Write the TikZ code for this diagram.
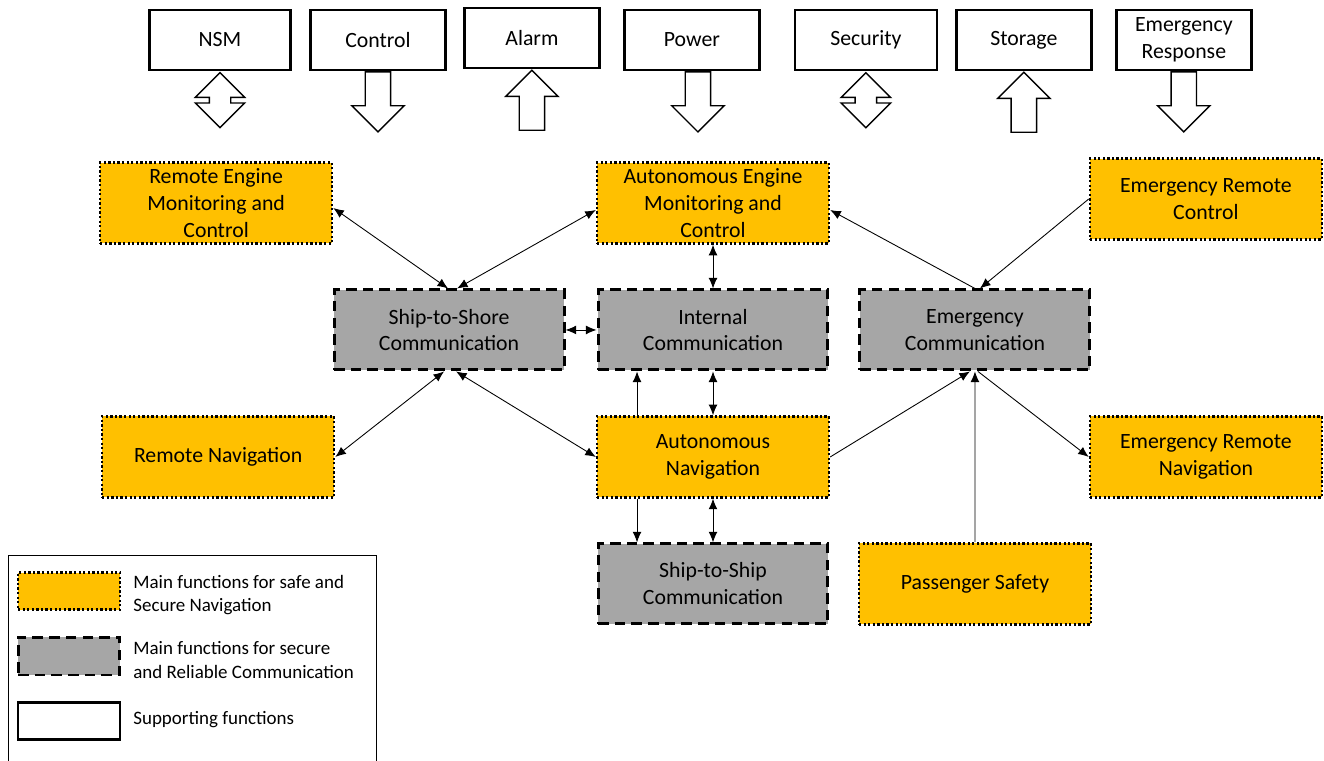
\documentclass[tikz,border=0pt]{standalone}
\usepackage{fontspec}
\setmainfont{Carlito}
\usetikzlibrary{shapes.arrows, arrows.meta}
\definecolor{navgold}{HTML}{FFC000}
\definecolor{commgrey}{HTML}{A6A6A6}
\tikzstyle{navbox} = [rectangle, minimum width=4.64cm, minimum height=1.62cm, inner sep=1pt, align=center, draw=black, line width=1.4pt, dash pattern=on 1.3pt off 1.3pt, fill=navgold]
\tikzstyle{commbox} = [rectangle, minimum width=4.6cm, minimum height=1.6cm, inner sep=1pt, align=center, draw=black, line width=1.7pt, dash pattern=on 6pt off 3.5pt, fill=commgrey]
\tikzstyle{supbox} = [rectangle, minimum width=2.7cm, minimum height=1.2cm, inner sep=1pt, align=center, draw=black, line width=1.4pt, fill=white]
\tikzstyle{downarrow} = [single arrow, draw=black, line width=0.8pt, fill=white, shape border rotate=270, minimum height=1.2cm, single arrow head extend=0.27cm, inner sep=0.24cm, anchor=tail]
\tikzstyle{uparrow} = [downarrow, shape border rotate=90]
\tikzstyle{twoway} = [double arrow, draw=black, line width=0.8pt, fill=white, shape border rotate=90, minimum height=1.1cm, double arrow head extend=0.28cm, inner sep=0.2cm]
\tikzstyle{keytext} = [anchor=west, align=left, inner sep=0pt, font=\fontsize{10.8}{13.2}\selectfont]
\tikzstyle{link} = [line width=0.5pt, <->, >={Latex[length=6pt,width=5pt]}]
\tikzstyle{arrow} = [line width=0.5pt, ->, >={Latex[length=6pt,width=5pt]}]

\begin{document}
\begin{tikzpicture}[x=0.02cm, y=-0.02cm, node distance=2.54cm, font=\fontsize{12.4}{15.3}\selectfont]
    \useasboundingbox (0,0) rectangle (1324,760);
    % supporting functions
    \node (nsm) [supbox, minimum width=2.82cm] at (220,40) {NSM};
    \node (ctrl) [supbox, right of=nsm, xshift=0.62cm] {Control};
    \node (alarm) [supbox, right of=ctrl, xshift=0.54cm, yshift=0.04cm] {Alarm};
    \node (power) [supbox, right of=alarm, xshift=0.66cm, yshift=-0.04cm] {Power};
    \node (security) [supbox, minimum width=2.84cm, right of=power, xshift=0.94cm] {Security};
    \node (storage) [supbox, right of=security, xshift=0.62cm] {Storage};
    \node (emresp) [supbox, right of=storage, xshift=0.66cm] {Emergency\\Response};
    \node (nsmflow) [twoway, yshift=-0.58cm] at (nsm.south) {};
    \node (ctrlflow) [downarrow] at (ctrl.south) {};
    \node (alarmflow) [uparrow, anchor=tip] at (alarm.south) {};
    \node (powerflow) [downarrow, xshift=0.12cm] at (power.south) {};
    \node (securityflow) [twoway, yshift=-0.58cm] at (security.south) {};
    \node (storageflow) [uparrow, anchor=tip] at (storage.south) {};
    \node (emrespflow) [downarrow] at (emresp.south) {};
    % main functions
    \node (aemc) [navbox] at (713,203) {Autonomous Engine\\Monitoring and\\Control};
    \node (ic) [commbox, below of=aemc] {Internal\\Communication};
    \node (an) [navbox, below of=ic] {Autonomous\\Navigation};
    \node (s2ship) [commbox, below of=an] {Ship-to-Ship\\Communication};
    \node (s2shore) [commbox, left of=ic, xshift=-2.74cm] {Ship-to-Shore\\Communication};
    \node (ec) [commbox, right of=ic, xshift=2.7cm] {Emergency\\Communication};
    \node (remc) [navbox, above of=s2shore, xshift=-4.66cm] {Remote Engine\\Monitoring and\\Control};
    \node (rn) [navbox, below of=s2shore, xshift=-4.62cm] {Remote Navigation};
    \node (erc) [navbox, above of=ec, xshift=4.62cm, yshift=0.08cm] {Emergency Remote\\Control};
    \node (ern) [navbox, below of=ec, xshift=4.62cm] {Emergency Remote\\Navigation};
    \node (ps) [navbox, below of=an, xshift=5.24cm] {Passenger Safety};
    % connections
    \draw [link] ([yshift=-0.1cm]remc.east) -- ([xshift=-0.02cm]s2shore.north);
    \draw [link] ([yshift=-0.14cm]aemc.west) -- ([xshift=0.16cm]s2shore.north);
    \draw [link] (aemc) -- (ic);
    \draw [link] (s2shore) -- (ic);
    \draw [arrow] (ec.north) -- ([yshift=-0.14cm]aemc.east);
    \draw [arrow] (erc.west) -- ([xshift=0.1cm]ec.north);
    \draw [link] ([xshift=-0.1cm]s2shore.south) -- (rn.east);
    \draw [link] ([xshift=0.14cm]s2shore.south) -- (an.west);
    \draw [arrow] ([xshift=-1.52cm]an.north) -- ([xshift=-1.52cm]ic.south);
    \draw [link] (ic) -- (an);
    \draw [arrow] (an.east) -- ([xshift=-0.1cm]ec.south);
    \draw [arrow] (ps) -- (ec);
    \draw [arrow] ([xshift=0.06cm]ec.south) -- (ern.west);
    \draw [arrow] ([xshift=-1.52cm]an.south) -- ([xshift=-1.52cm]s2ship.north);
    \draw [link] (an) -- (s2ship);
    % legend
    \node (legend) [draw=black, line width=0.85pt, minimum width=7.36cm, minimum height=4.4cm, anchor=north west] at (8,555) {};
    \node (keynav) [navbox, minimum width=2.04cm, minimum height=0.74cm] at (69,591) {};
    \node (keycomm) [commbox, minimum width=2.04cm, minimum height=0.76cm] at (69,656) {};
    \node (keysup) [supbox, minimum width=2.04cm, minimum height=0.74cm] at (69,721) {};
    \node (keynavtext) [keytext] at (133,595) {Main functions for safe and\\Secure Navigation};
    \node (keycommtext) [keytext] at (133,660) {Main functions for secure\\and Reliable Communication};
    \node (keysuptext) [keytext] at (133,720) {Supporting functions};
\end{tikzpicture}
\end{document}
